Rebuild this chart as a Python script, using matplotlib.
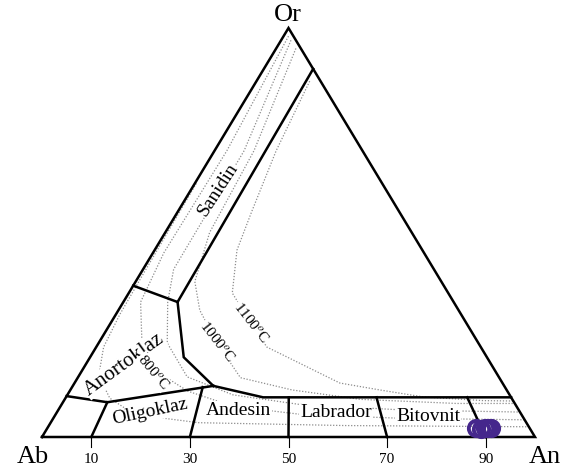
import matplotlib.pyplot as plt
import numpy as np

plt.rcParams['font.family'] = ['Liberation Serif', 'DejaVu Serif']
plt.rcParams['mathtext.fontset'] = 'stix'

# feldspar field boundaries, (An %, Or %) pairs
sanidin_line = [(10, 90), (10.5, 62), (10.8, 45), (11, 33)]
anortoklaz_top = [(0, 37), (11, 33)]
anortoklaz_right = [(11, 33), (19, 19.5), (28.5, 12.5)]
plag_top = [(28.5, 12.5), (40, 9.7), (90.3, 9.7)]
anortoklaz_bottom = [(0, 10), (9, 8.5), (28.5, 12.5)]
oligoklaz_left = [(9, 8.5), (10, 0)]
oligo_andesin = [(26.5, 12.2), (30, 0)]
andesin_labrador = [(45.2, 9.7), (50, 0)]
labrador_bitovnit = [(63, 9.7), (70, 0)]
bitovnit_line = [(81.4, 9.7), (90, 0)]

# isotherms (An %, Or %)
iso_outer = [(0.3, 62), (0.6, 40), (0.8, 30), (1.5, 22), (4, 15), (9, 9.5),
             (16, 5.5), (30, 3.5), (60, 2.8), (97.5, 2.5)]
iso_800 = [(1, 98), (2.5, 70), (2.2, 45), (3.5, 33), (9.3, 22), (16, 15.6),
           (24, 11.2), (35, 7.5), (50, 5.5), (70, 4.6), (95.8, 4.2)]
iso_900 = [(2, 97), (6, 70), (6.2, 41), (9, 33), (13.9, 23), (22.1, 14.7),
           (33.6, 10.3), (48, 8.0), (70, 6.6), (93.9, 6.1)]
iso_1000 = [(4, 95), (8, 70), (9, 50), (12, 38), (16.5, 31), (24, 23),
            (33, 14.5), (45, 11.5), (60, 9.2), (80, 8.2), (91.8, 8.2)]
iso_1100 = [(10.8, 87), (12.5, 70), (15, 55), (16.7, 45.7), (21, 35.2), (28.4, 27.9),
            (34.6, 22), (53.8, 13.2), (62.8, 11.5), (72.4, 9.8), (85, 8.9), (91.2, 8.8)]

# sample points
pt_an = [87.0, 88.0, 88.8, 89.5, 90.0]
pt_or = [2.2, 2.0, 2.3, 2.1, 2.2]

ticks = [10, 30, 50, 70, 90]


def tern(pts):
    a = np.array(pts, dtype=float)
    return a[:, 0] + a[:, 1] / 2, a[:, 1]


fig = plt.figure(figsize=(5.71, 4.72), dpi=100)
ax = fig.add_axes([42 / 571, 35 / 472, 493 / 571, 409 / 472])
ax.set_xlim(0, 100)
ax.set_ylim(0, 100)
ax.axis('off')

dot = dict(color='#8c8c8c', lw=0.9, ls=(0, (1, 1.4)), clip_on=False, zorder=1)
for c in [iso_outer, iso_800, iso_900, iso_1000, iso_1100]:
    x, y = tern(c)
    ax.plot(x, y, **dot)

solid = dict(color='black', lw=1.8, clip_on=False, zorder=3, solid_joinstyle='miter')
x, y = tern([(0, 0), (100, 0), (0, 100), (0, 0)])
ax.plot(x, y, **solid)
for c in [sanidin_line, anortoklaz_top, anortoklaz_right, plag_top, anortoklaz_bottom,
          oligoklaz_left, oligo_andesin, andesin_labrador, labrador_bitovnit, bitovnit_line]:
    x, y = tern(c)
    ax.plot(x, y, **solid)

for t in ticks:
    ax.plot([t, t], [0, -2.4], color='black', lw=0.8, clip_on=False)
    ax.text(t, -5.6, str(t), ha='center', va='center', fontsize=11)

ax.text(49.9, 103.2, 'Or', ha='center', va='center', fontsize=19)
ax.text(-1.8, -4.9, 'Ab', ha='center', va='center', fontsize=19)
ax.text(102.0, -4.9, 'An', ha='center', va='center', fontsize=19)

wb = dict(facecolor='white', edgecolor='none', pad=0.5)
ax.text(35.7, 60.4, 'Sanidin', rotation=57, ha='center', va='center', fontsize=14, bbox=wb, zorder=4)
ax.text(16.6, 17.8, 'Anortoklaz', rotation=36, ha='center', va='center', fontsize=15, bbox=wb, zorder=4)
ax.text(22.5, 15.9, '800$^o$C', rotation=-50, ha='center', va='center', fontsize=11, bbox=wb, zorder=4)
ax.text(35.5, 23.2, '1000$^o$C', rotation=-52, ha='center', va='center', fontsize=11, bbox=wb, zorder=4)
ax.text(42.4, 27.9, '1100$^o$C', rotation=-52, ha='center', va='center', fontsize=11, bbox=wb, zorder=4)
ax.text(21.9, 6.1, 'Oligoklaz', rotation=12, ha='center', va='center', fontsize=14, bbox=wb, zorder=4)
ax.text(39.8, 6.6, 'Andesin', ha='center', va='center', fontsize=14, bbox=wb, zorder=4)
ax.text(59.6, 5.9, 'Labrador', ha='center', va='center', fontsize=14, bbox=wb, zorder=4)
ax.text(78.3, 5.1, 'Bitovnit', ha='center', va='center', fontsize=14, bbox=wb, zorder=4)

x, y = tern(list(zip(pt_an, pt_or)))
ax.plot(x, y, 'o', ms=11, mfc='none', mec='#45278c', mew=2.8, clip_on=False, zorder=5)

fig.savefig('out.png', dpi=100)
